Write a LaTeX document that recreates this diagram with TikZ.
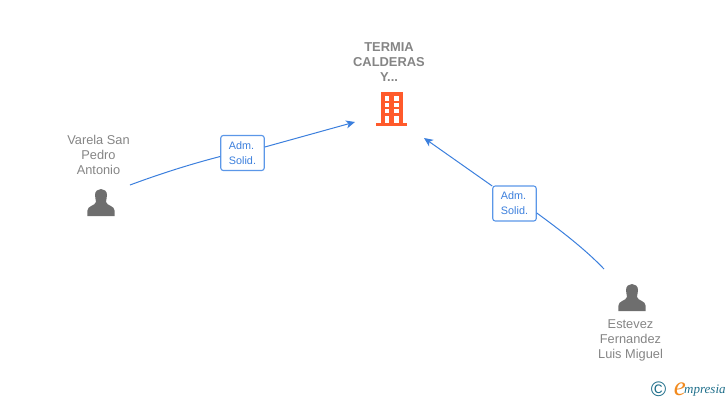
\documentclass[tikz,border=0pt]{standalone}
\usepackage{fontspec}
\setmainfont{Liberation Sans}
\newfontfamily\logofont{Liberation Serif}
\usetikzlibrary{arrows.meta,positioning}
\definecolor{labelgray}{HTML}{858585}
\definecolor{icongray}{HTML}{6E6E6E}
\definecolor{linkblue}{HTML}{3B7FDD}
\definecolor{badgeblue}{HTML}{5B97E8}
\definecolor{buildorange}{HTML}{FF5A2B}
\definecolor{logoteal}{HTML}{1F6F8B}
\definecolor{logoorange}{HTML}{F28A1E}
\tikzset{
  person/.style={text=labelgray, font=\fontsize{12.8}{15}\selectfont, align=center, inner sep=0pt},
  company/.style={text=labelgray, font=\fontsize{12.9}{15}\selectfont\bfseries, align=center, inner sep=0pt},
  badge/.style={draw=badgeblue, fill=white, rounded corners=2.5pt, line width=1.1pt, text=linkblue,
    minimum width=43.5pt, minimum height=35pt, inner sep=0pt, align=left, font=\fontsize{10.8}{15}\selectfont},
  link/.style={draw=linkblue, line width=1pt},
  pics/usericon/.style={code={
    \fill[icongray] (-6,-8) .. controls (-6,-16) and (6,-16) .. (6,-8)
      .. controls (6,-5) and (5,-3) .. (5,-1)
      .. controls (6,3) and (13.7,2.5) .. (13.7,8) -- (13.7,13) -- (-13.7,13) -- (-13.7,8)
      .. controls (-13.7,2.5) and (-6,3) .. (-5,-1)
      .. controls (-5,-3) and (-6,-5) .. (-6,-8) -- cycle;
  }}
}
\begin{document}
\begin{tikzpicture}[x=1pt, y=-1pt]
  \useasboundingbox (0,0) rectangle (728,400);
  % company
  \node [company] at (389,62.5) (termia) {TERMIA\\ CALDERAS\\ Y...};
  \fill [buildorange] (380.7,92.3) rectangle (402.7,124);
  \fill [buildorange] (375.7,123.3) rectangle (407.3,126);
  \foreach \wy/\wh in {96/4.7, 102.7/4.6, 109.3/4, 116/7.3} {
    \fill [white] (384.7,\wy) rectangle ++(4.3,\wh);
    \fill [white] (394,\wy) rectangle ++(4.7,\wh);
  }
  % people
  \node [person] at (98.5,155) (varela) {Varela San\\ Pedro\\ Antonio};
  \pic at (101,203) {usericon};
  \node [person] at (630.5,340) (estevez) {Estevez\\ Fernandez\\ Luis Miguel};
  \pic at (632,298) {usericon};
  % links
  \node [badge] at (242.5,153) (adm1) {Adm.\\ Solid.};
  \node [badge] at (514.5,203.5) (adm2) {Adm.\\ Solid.};
  \coordinate (from1) at (130,185);
  \coordinate (to1) at (355,122);
  \coordinate (from2) at (604,269);
  \coordinate (to2) at (424,138);
  \draw [link] (from1) .. controls (165,172) and (195,163) .. (adm1.west |- 0,156.5);
  \draw [link, -{Stealth[length=9pt,width=8pt,inset=2.5pt]}] (adm1.east |- 0,147) -- (to1);
  \draw [link] (from2) .. controls (585,249) and (560,230) .. (adm2.east |- 0,213);
  \draw [link, -{Stealth[length=9pt,width=8pt,inset=2.5pt]}] (adm2.west |- 0,186) -- (to2);
  % logo
  \node [text=logoteal, inner sep=0pt, font=\fontsize{21}{21}\selectfont] at (658.5,389) (copyr) {©};
  \node [text=logoteal, inner sep=0pt, anchor=base west, font=\logofont\itshape\fontsize{13}{13}\selectfont] at (684,393) (logotext) {mpresia};
  \node [text=logoorange, inner sep=0pt, anchor=base east, font=\logofont\itshape\fontsize{27}{27}\selectfont] at (686,395) (logoe) {e};
\end{tikzpicture}
\end{document}
